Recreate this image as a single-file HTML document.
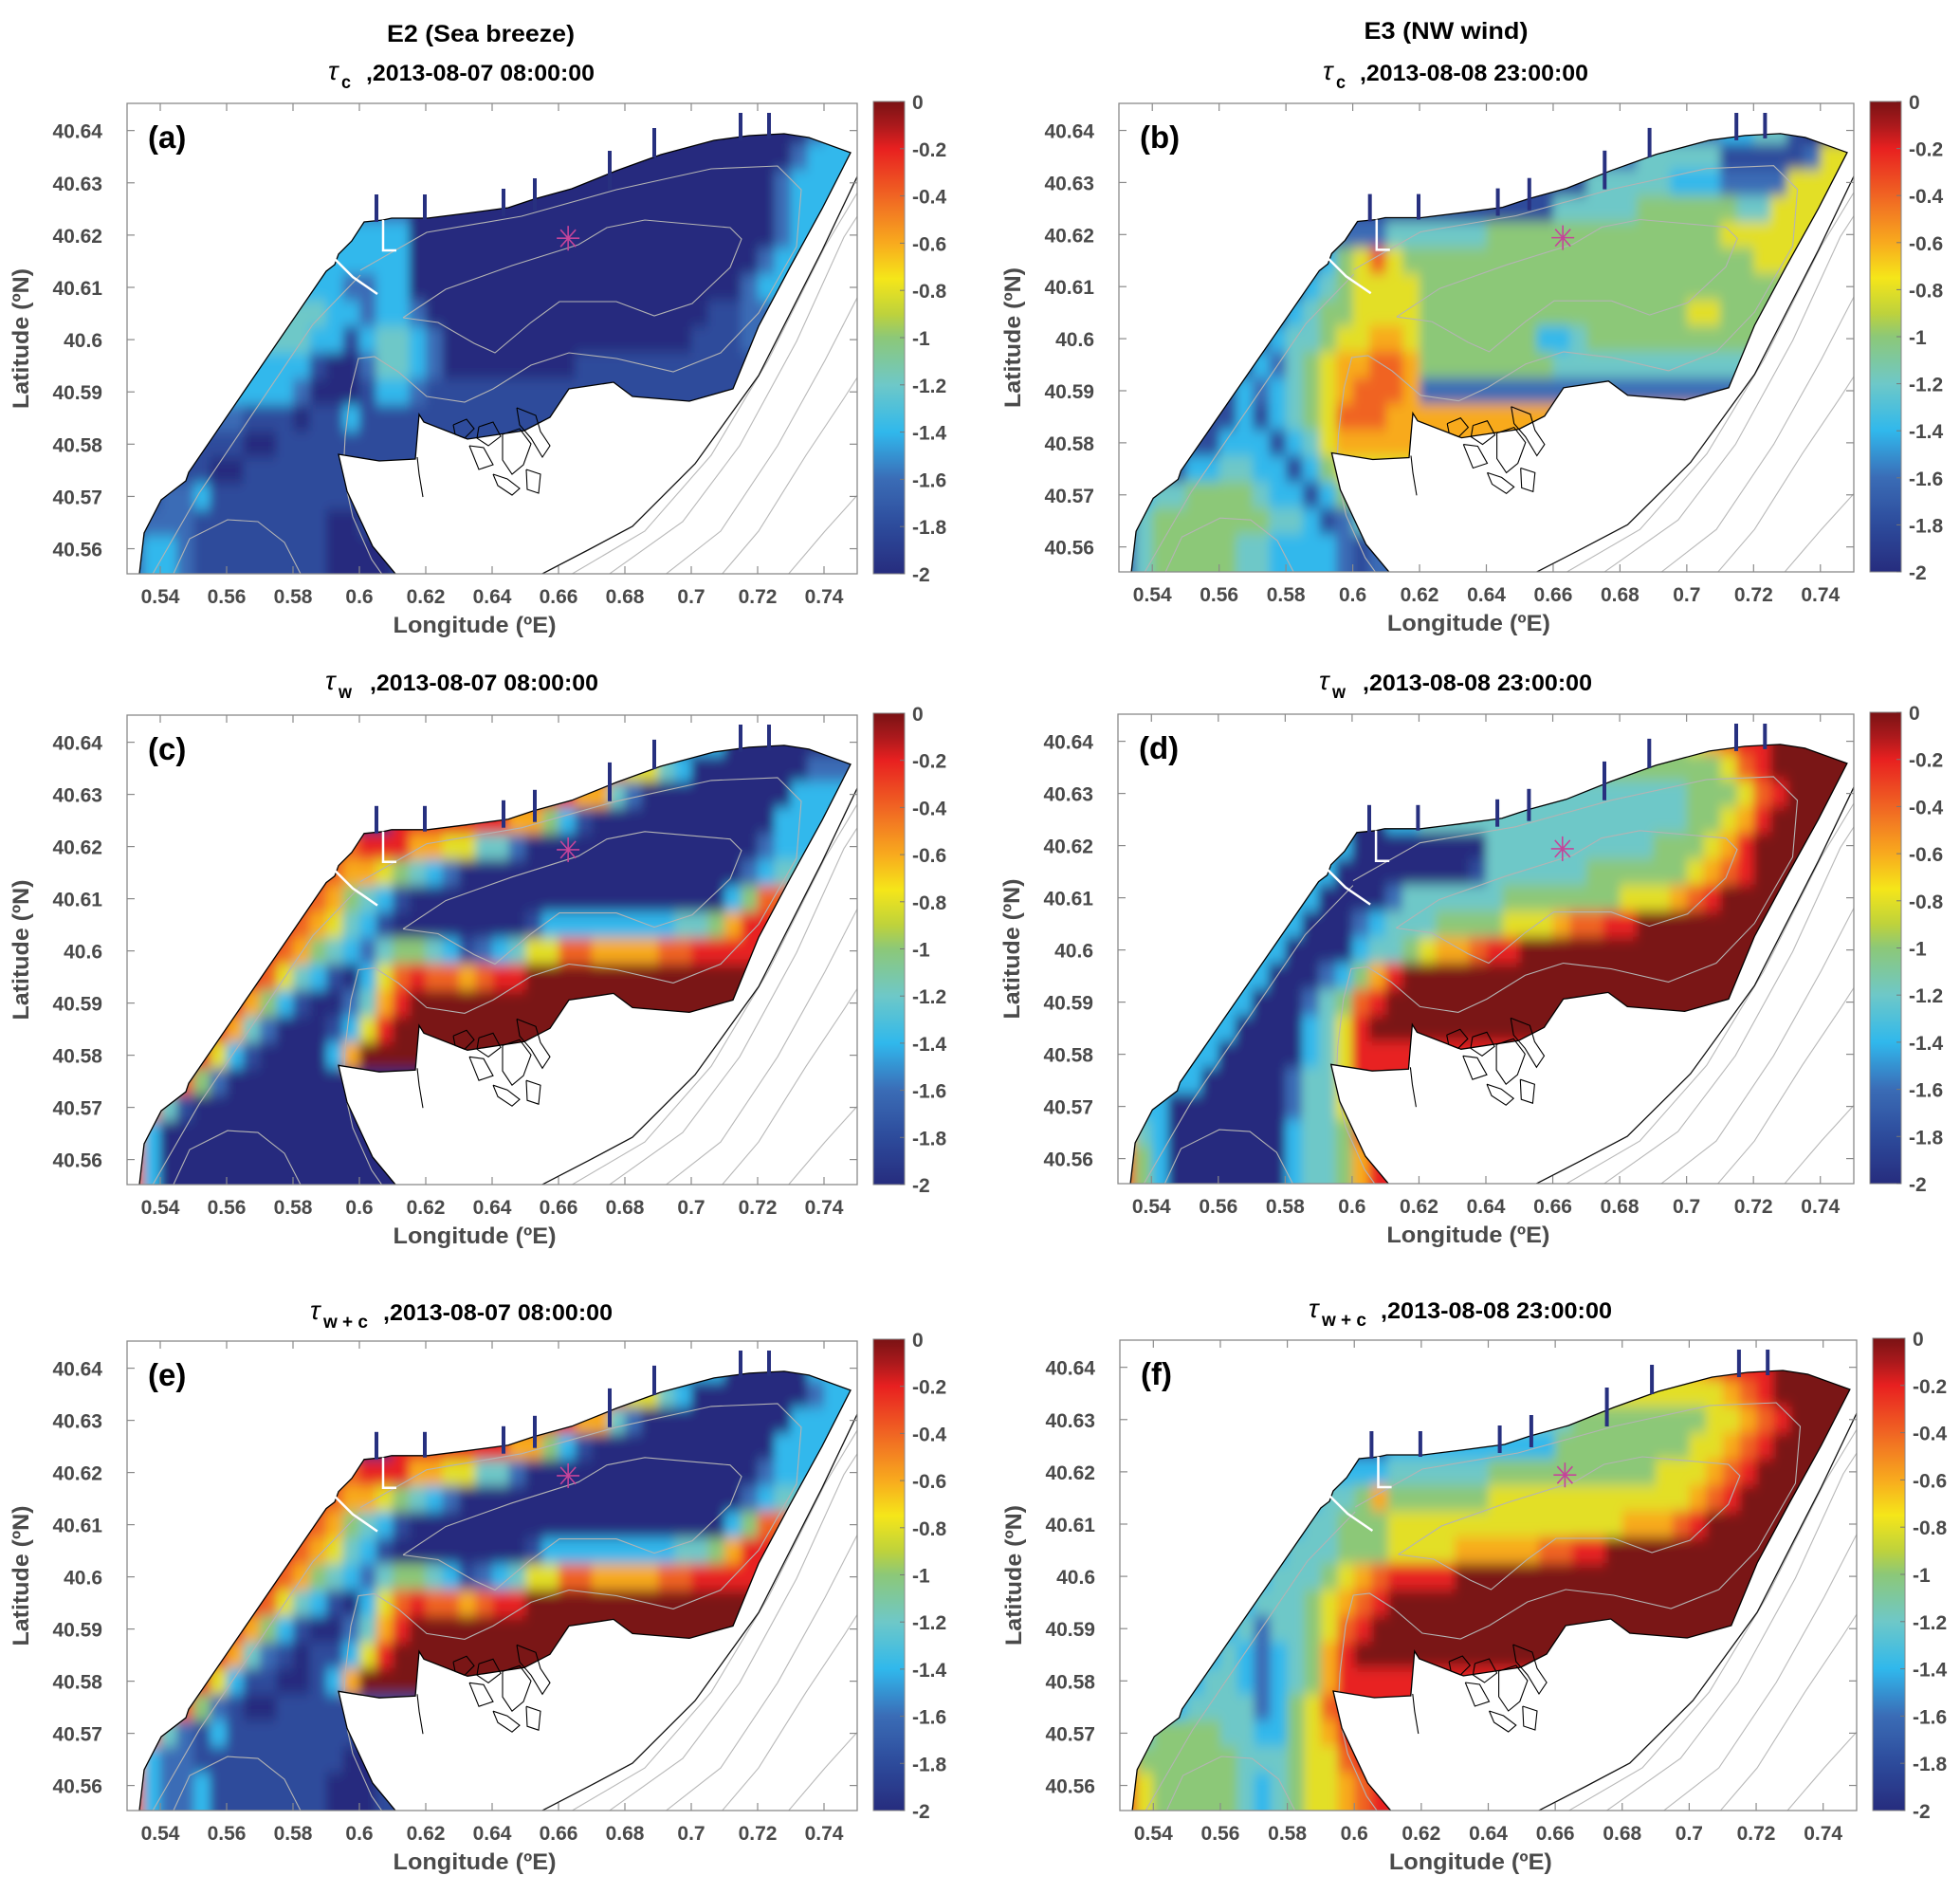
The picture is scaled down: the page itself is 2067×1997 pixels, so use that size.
<!DOCTYPE html>
<html><head><meta charset="utf-8"><title>Bottom stress maps</title>
<style>
html,body{margin:0;padding:0;background:#fff;}
svg{display:block;}
text{font-family:"Liberation Sans",Arial,sans-serif;}
</style></head>
<body>
<svg id="fig" xmlns="http://www.w3.org/2000/svg" width="2067" height="1997" viewBox="0 0 2067 1997">
<rect x="0" y="0" width="2067" height="1997" fill="#fff"/>
<defs>
<linearGradient id="cbGrad" x1="0" y1="0" x2="0" y2="1"></linearGradient>
</defs>
<text x="507" y="44" font-size="25" font-weight="bold" text-anchor="middle" textLength="198" lengthAdjust="spacingAndGlyphs" fill="#000">E2 (Sea breeze)</text>
<text x="1525" y="41" font-size="25" font-weight="bold" text-anchor="middle" textLength="173" lengthAdjust="spacingAndGlyphs" fill="#000">E3 (NW wind)</text>
<g id="panels"></g>
</svg>
<script>
// ---- axis ticks ----
const lonTicks=[0.54,0.56,0.58,0.6,0.62,0.64,0.66,0.68,0.7,0.72,0.74];
const lonTickLabels=["0.54","0.56","0.58","0.6","0.62","0.64","0.66","0.68","0.7","0.72","0.74"];
const latTicks=[40.56,40.57,40.58,40.59,40.6,40.61,40.62,40.63,40.64];
const latTickLabels=["40.56","40.57","40.58","40.59","40.6","40.61","40.62","40.63","40.64"];
const cbTicks=[0,-0.2,-0.4,-0.6,-0.8,-1,-1.2,-1.4,-1.6,-1.8,-2];
const cbTickLabels=["0","-0.2","-0.4","-0.6","-0.8","-1","-1.2","-1.4","-1.6","-1.8","-2"];
// ---- field grids (rows N->S, 44 cols W->E; code d => -2+0.2d, X => 0), run-length "v*n" ----
const gridA=["0*41 2*1 3*2","0*41 2*1 3*2","0*40 2*1 3*3","0*39 2*1 3*4","2*17 0*22 2*1 3*4","2*12 3*5 0*22 2*1 3*4","3*17 0*21 2*1 3*5","3*13 2*2 3*2 0*20 2*1 3*6","4*12 3*2 2*1 3*2 2*1 0*17 1*2 2*7","4*11 3*2 1*1 3*1 4*2 3*1 2*1 0*15 1*3 2*7","3*11 1*1 0*2 2*1 4*2 3*1 2*1 0*8 1*11 2*6","3*10 2*1 0*3 1*1 3*2 2*1 1*26","2*7 1*3 0*1 1*2 3*1 1*30","1*7 0*2 1*35","1*5 0*2 1*37","1*2 2*2 3*1 1*39","1*1 2*3 1*8 0*2 1*30","2*1 3*2 2*1 1*8 0*4 1*28"];
const gridB=["5*39 1*1 0*4","2*36 3*2 4*2 1*1 0*3","2*31 4*5 1*5 2*1 6*2","1*28 4*5 3*3 2*4 6*4","1*26 4*5 5*6 4*2 6*5","2*16 4*6 5*14 6*8","1*12 3*1 5*1 6*1 8*1 6*1 5*21 6*6","1*11 3*1 4*1 5*1 6*4 5*26","1*10 3*1 4*1 5*2 6*4 5*16 6*2 5*8","1*9 3*1 4*2 5*1 6*2 7*2 6*1 5*7 3*2 4*1 5*16","1*8 3*1 2*1 4*1 5*1 6*1 7*2 8*2 7*1 5*8 4*20","1*7 3*1 2*1 3*1 4*1 5*1 6*1 7*1 8*3 7*1 2*26","1*7 3*1 1*1 3*1 4*1 5*1 6*1 8*3 7*28","1*6 3*3 1*1 3*1 4*1 6*1 7*31","1*4 3*2 4*2 3*2 1*1 3*1 5*1 6*31","1*1 3*1 4*2 5*4 4*1 3*2 1*1 3*1 5*31","1*1 4*1 5*7 4*2 3*1 1*1 2*1 4*30","2*1 4*1 5*5 4*2 3*4 2*1 1*1 2*29"];
const gridC=["0*44","0*34 3*2 0*8","9*30 6*2 4*1 3*1 0*7 2*3","9*27 7*2 4*1 2*1 0*9 3*4","0*16 9*7 7*2 5*1 3*1 1*1 0*11 3*5","9*13 8*1 9*3 7*2 6*2 4*2 2*1 0*14 2*1 3*5","9*12 8*1 7*2 6*1 5*1 4*1 3*1 2*1 0*17 2*1 3*1 4*5","9*11 8*1 7*1 5*1 4*1 3*1 1*1 0*19 3*1 5*1 8*6","9*10 8*1 7*1 6*1 4*1 3*1 1*1 0*8 1*1 3*8 4*2 5*1 7*1 9*6","9*9 8*1 7*1 5*1 4*1 3*1 2*1 4*1 5*2 4*1 3*1 1*1 2*1 3*1 4*1 6*2 8*2 7*4 8*2 9*10","9*8 8*1 6*1 4*1 3*1 1*1 0*1 3*1 6*1 8*1 9*1 8*2 7*1 8*1 9*2 X*20","9*7 7*1 5*1 3*1 1*1 0*2 2*1 4*1 7*1 9*1 X*27","9*6 7*1 4*1 2*1 0*3 1*1 3*1 6*1 9*1 X*28","9*5 6*1 3*1 1*1 0*4 3*1 7*1 X*30","8*4 5*1 2*1 0*38","8*2 4*1 1*1 0*40","7*1 3*1 0*42","8*1 3*1 0*42"];
const gridD=["5*38 9*1 X*5","5*34 6*1 7*1 8*1 9*2 X*5","5*36 6*1 8*1 9*1 X*5","4*34 5*3 6*1 8*1 9*1 X*4","0*16 3*2 4*16 5*2 6*1 7*1 9*1 X*5","3*14 0*8 4*10 5*3 6*1 7*1 9*1 X*6","3*13 0*8 1*1 4*6 5*6 6*1 7*1 8*1 9*1 X*6","3*12 0*4 2*1 4*6 5*7 6*3 7*1 8*1 9*1 X*8","3*11 0*3 2*1 3*1 4*3 5*4 6*3 7*1 8*2 9*2 X*13","3*10 0*4 3*1 4*2 5*1 6*1 7*2 8*1 9*2 X*20","3*9 0*3 2*1 3*1 5*1 7*1 9*1 X*27","3*8 0*3 2*1 4*1 5*1 8*1 9*1 X*28","3*7 0*4 3*1 4*1 6*1 9*1 X*29","3*6 0*5 3*1 4*1 6*1 9*30","3*5 0*5 2*1 4*2 6*1 9*30","4*1 3*2 0*7 2*1 4*2 6*1 9*30","7*1 4*1 3*1 0*7 3*1 4*2 5*1 8*1 9*29","8*1 5*1 3*1 0*7 3*1 4*2 5*1 7*1 9*29"];
const gridE=["0*41 2*1 3*2","0*34 3*2 0*5 3*3","9*30 6*2 4*1 3*1 0*7 2*1 3*2","9*27 7*2 4*1 2*1 0*9 3*4","0*16 9*7 7*2 5*1 3*1 1*1 0*11 3*5","9*13 8*1 9*3 7*2 6*2 4*2 2*1 0*14 2*1 3*5","9*12 8*1 7*2 6*1 5*1 4*1 3*1 2*1 0*17 2*1 3*1 4*5","9*11 8*1 7*1 5*1 4*1 3*1 1*1 0*19 3*1 5*1 8*6","9*10 8*1 7*1 6*1 4*1 3*1 1*1 0*8 1*1 3*8 4*2 5*1 7*1 9*6","9*9 8*1 7*1 5*1 4*1 3*1 2*1 4*1 5*2 4*1 3*1 1*1 2*1 3*1 4*1 6*2 8*2 7*4 8*2 9*10","9*8 8*1 6*1 4*1 3*1 1*1 0*1 3*1 6*1 8*1 9*1 8*2 7*1 8*1 9*2 X*20","9*7 7*1 5*1 3*1 1*1 0*2 2*1 4*1 7*1 9*1 X*27","9*6 7*1 4*1 2*1 1*1 0*1 1*2 3*1 6*1 9*1 X*28","9*5 6*1 3*1 1*2 0*2 1*1 3*1 7*1 X*30","8*4 5*1 2*1 1*1 0*2 1*35","8*2 4*1 2*1 1*1 3*1 1*38","7*1 3*1 2*2 1*9 0*2 1*29","8*1 3*1 2*2 3*1 1*7 0*3 1*29"];
const gridF=["6*38 9*1 X*5","6*34 7*1 8*1 9*3 X*5","6*36 7*1 8*1 9*1 X*5","4*27 5*8 6*2 7*1 8*1 9*1 X*4","1*16 3*10 5*8 6*2 7*1 8*1 9*1 X*5","3*16 4*6 5*10 6*3 7*1 8*1 9*1 X*6","3*12 4*2 5*1 7*1 5*6 6*12 7*1 8*1 9*1 X*7","3*11 4*2 5*3 6*14 7*3 8*1 9*1 X*9","3*10 4*3 5*3 6*4 7*5 8*2 9*2 X*15","3*9 4*3 5*1 6*1 7*1 8*1 9*4 X*24","3*8 4*3 5*1 6*1 7*1 8*1 9*1 X*28","3*7 4*1 2*1 4*2 5*1 6*1 8*1 9*1 X*29","3*6 4*1 3*1 2*1 3*1 4*1 5*1 7*1 9*1 X*30","3*5 4*2 3*1 2*1 3*1 4*1 5*1 7*1 9*31","3*4 4*4 2*1 3*1 5*1 6*1 8*1 9*31","4*2 5*4 4*2 3*2 5*1 6*1 7*1 9*31","7*1 5*6 4*3 5*1 6*2 8*1 9*30","8*1 6*1 5*5 4*1 3*1 4*1 5*1 6*2 7*1 8*1 9*29"];
// ---- colormap stops ----
const cmapV=[-2,-1.8,-1.6,-1.4,-1.2,-1.0,-0.9,-0.75,-0.6,-0.4,-0.2,-0.1,0];
const cmapC=[[38,44,126],[45,75,155],[58,108,182],[48,184,236],[110,200,200],[140,200,120],[190,210,60],[245,230,25],[248,170,30],[240,100,35],[232,32,32],[170,25,28],[122,18,20]];

const NS="http://www.w3.org/2000/svg";
function mk(tag,parent){const e=document.createElementNS(NS,tag);parent.appendChild(e);return e;}
function setA(e,o){for(const k in o)e.setAttribute(k,o[k]);}
function color(v){
  v=Math.max(-2,Math.min(0,v));
  for(let i=0;i<cmapV.length-1;i++){
    if(v<=cmapV[i+1]){const t=(v-cmapV[i])/(cmapV[i+1]-cmapV[i]);const a=cmapC[i],b=cmapC[i+1];
      return "rgb("+Math.round(a[0]+(b[0]-a[0])*t)+","+Math.round(a[1]+(b[1]-a[1])*t)+","+Math.round(a[2]+(b[2]-a[2])*t)+")";}
  }
  return "rgb(122,18,20)";
}
function codeVal(ch){return ch==="X"?0:-2+0.2*parseInt(ch,10);}
function expand(rle){
  const out=[];rle.trim().split(/\s+/).forEach(tok=>{const p=tok.split("*");const n=parseInt(p[1],10);for(let k=0;k<n;k++)out.push(codeVal(p[0]));});
  while(out.length<44)out.push(out[out.length-1]);
  return out.slice(0,44);
}
// geometry (coastline etc.) given in reference-frame pixels of panel (a); converted to lon/lat
function refLon(X){return 0.53+(X-134)/3500;}
function refLat(Y){return 40.6452-(Y-109)/5511;}
const coastRef=[[140,625],[147,605],[152,562],[170,527],[196,507],[199,498],[344,286],[353,279],[357,268],[371,254],[384,234],[404,232],[413,230],[451,230],[491,225],[536,219],[563,210],[603,199],[650,180],[697,163],[753,148],[790,143],[827,141],[853,145],[897,161],[867,220],[833,282],[800,344],[773,410],[727,423],[667,418],[647,403],[600,410],[580,440],[553,454],[493,463],[447,445],[442,437],[440,460],[438,484],[400,486],[357,479],[366,518],[393,576],[417,605],[424,625]];
const jettyRef=[[397,205,234],[448,205,232],[531,199,228],[564,188,222],[643,159,200],[690,135,166],[781,119,148],[811,119,146]];
const offshoreBlack=[[568,607],[620,580],[667,555],[733,489],[800,396],[867,264],[906,182]];
const offshoreGray=[[[600,607],[680,560],[750,480],[810,380],[870,260],[906,200]],[[640,607],[720,550],[780,470],[840,360],[890,250],[906,225]],[[700,607],[760,560],[820,470],[870,380],[906,310]],[[760,607],[800,560],[850,480],[890,420],[906,395]],[[830,607],[870,560],[906,520]]];
const contourRef=[[[380,285],[450,245],[550,228],[650,200],[750,178],[820,175],[845,200],[840,260],[800,330],[760,372],[710,392],[650,378],[600,372],[560,385],[520,410],[490,424],[450,418],[420,392],[395,376],[378,378],[370,410],[364,460],[362,500],[372,545],[392,590],[404,607]],[[425,335],[470,305],[540,280],[610,258],[640,240],[680,232],[770,240],[782,252],[770,282],[730,320],[690,333],[650,318],[590,318],[560,340],[522,372],[500,362],[462,340],[425,335]],[[182,607],[200,568],[240,548],[272,550],[300,572],[318,607]],[[160,607],[210,520],[330,342],[380,290]]];
const islandsRef=[[[478,448],[492,442],[500,452],[490,462],[480,458],[478,448]],[[505,450],[520,445],[528,460],[515,470],[503,462],[505,450]],[[530,458],[548,452],[560,468],[552,490],[540,500],[530,485],[530,458]],[[545,430],[565,438],[570,455],[580,470],[572,482],[560,462],[548,448],[545,430]],[[495,470],[510,472],[520,490],[505,495],[495,470]],[[520,500],[535,505],[548,515],[540,522],[525,512],[520,500]],[[555,495],[570,500],[568,520],[556,516],[555,495]],[[440,482],[442,500],[446,524]]];
const starLon=0.6629, starLat=40.6194;

const panels=[
 {id:"a",x0:134,y0:109,w:770,h:496,cb0:921,cb1:954,grid:gridA,label:"(a)",sub:"c",tauX:346,t0:386,t1:627,ty:76,subW:10},
 {id:"b",x0:1180,y0:109,w:775,h:494,cb0:1972,cb1:2005,grid:gridB,label:"(b)",sub:"c",tauX:1395,t0:1434,t1:1675,ty:76,subW:10},
 {id:"c",x0:134,y0:754,w:770,h:495,cb0:921,cb1:954,grid:gridC,label:"(c)",sub:"w",tauX:343,t0:390,t1:631,ty:719,subW:14},
 {id:"d",x0:1179,y0:753,w:776,h:495,cb0:1972,cb1:2005,grid:gridD,label:"(d)",sub:"w",tauX:1391,t0:1437,t1:1679,ty:719,subW:14},
 {id:"e",x0:134,y0:1414,w:770,h:495,cb0:921,cb1:954,grid:gridE,label:"(e)",sub:"w + c",tauX:327,t0:404,t1:646,ty:1383,subW:47},
 {id:"f",x0:1181,y0:1413,w:777,h:496,cb0:1975,cb1:2009,grid:gridF,label:"(f)",sub:"w + c",tauX:1380,t0:1456,t1:1700,ty:1381,subW:47}
];
const svg=document.getElementById("fig");
const defs=svg.querySelector("defs");
const root=document.getElementById("panels");
const grad=document.getElementById("cbGrad");
for(let k=0;k<=40;k++){const v=-2*k/40;const s=mk("stop",grad);setA(s,{offset:(k/40).toFixed(3),"stop-color":color(v)});}

panels.forEach(p=>{
  const xS=lon=>p.x0+(lon-0.53)/0.22*p.w;
  const yS=lat=>p.y0+(40.6452-lat)/0.09*p.h;
  const rx=X=>xS(refLon(X)), ry=Y=>yS(refLat(Y));
  const pts=arr=>arr.map(q=>rx(q[0]).toFixed(1)+","+ry(q[1]).toFixed(1)).join(" ");
  const g=mk("g",root);
  
  
  const cpA=mk("clipPath",defs);cpA.setAttribute("id","axclip-"+p.id);
  const cr=mk("rect",cpA);setA(cr,{x:p.x0,y:p.y0,width:p.w,height:p.h});
  const cpW=mk("clipPath",defs);cpW.setAttribute("id","water-"+p.id);
  const cw=mk("polygon",cpW);cw.setAttribute("points",pts(coastRef));
  const flt=mk("filter",defs);setA(flt,{id:"blur-"+p.id,filterUnits:"userSpaceOnUse",x:p.x0-40,y:p.y0-40,width:p.w+80,height:p.h+80});
  const fb=mk("feGaussianBlur",flt);fb.setAttribute("stdDeviation","5 7");
  const axG=mk("g",g);axG.setAttribute("clip-path","url(#axclip-"+p.id+")");
  
  
  const wG=mk("g",axG);wG.setAttribute("clip-path","url(#water-"+p.id+")");
  const hm=mk("g",wG);hm.setAttribute("filter","url(#blur-"+p.id+")");
  
  
  p.grid.forEach((row,j)=>{
    const vals=expand(row);
    vals.forEach((v,i)=>{
      let lonA=0.53+0.005*i, lonB=lonA+0.005, latT=40.6475-0.005*j, latB=latT-0.005;
      if(i===0)lonA-=0.02; if(i===43)lonB+=0.02; if(j===0)latT+=0.02; if(j===17)latB-=0.02;
      const r=mk("rect",hm);
      
      
      setA(r,{x:xS(lonA).toFixed(1),y:yS(latT).toFixed(1),width:(xS(lonB)-xS(lonA)+0.6).toFixed(1),height:(yS(latB)-yS(latT)+0.6).toFixed(1),fill:color(v)});
    });
  });
  contourRef.forEach(c=>{const l=mk("polyline",wG);
    
    
    setA(l,{points:pts(c),fill:"none",stroke:"#b4b4b4","stroke-width":1.1});});
  offshoreGray.forEach(c=>{const l=mk("polyline",axG);
    
    
    setA(l,{points:pts(c),fill:"none",stroke:"#b8b8b8","stroke-width":1.1});});
  const ob=mk("polyline",axG);
  
  
  setA(ob,{points:pts(offshoreBlack),fill:"none",stroke:"#111","stroke-width":1.3});
  const cl=mk("polygon",axG);
  
  
  setA(cl,{points:pts(coastRef),fill:"none",stroke:"#000","stroke-width":1.3});
  islandsRef.forEach(c=>{const l=mk("polyline",axG);
    
    
    setA(l,{points:pts(c),fill:"none",stroke:"#000","stroke-width":1.1});});
  const bw=mk("polyline",axG);
  
  
  setA(bw,{points:pts([[352,272],[372,292],[398,310]]),fill:"none",stroke:"#fff","stroke-width":2.5});
  const jt=mk("polyline",axG);
  
  
  setA(jt,{points:pts([[404,232],[404,264],[418,264]]),fill:"none",stroke:"#fff","stroke-width":2.5});
  jettyRef.forEach(q=>{const r=mk("rect",axG);
    
    
    setA(r,{x:(rx(q[0])-2).toFixed(1),y:ry(q[1]).toFixed(1),width:4,height:(ry(q[2])-ry(q[1])).toFixed(1),fill:"#27307f"});});
  const sx=xS(starLon), sy=yS(starLat);
  const st=mk("g",axG);
  
  
  [[0,-13,0,13],[-12,0,12,0],[-8,-9,8,9],[-8,9,8,-9]].forEach(s=>{const l=mk("line",st);setA(l,{x1:sx+s[0],y1:sy+s[1],x2:sx+s[2],y2:sy+s[3],stroke:"#c5449a","stroke-width":1.6});});
  const box=mk("rect",g);
  
  
  setA(box,{x:p.x0,y:p.y0,width:p.w,height:p.h,fill:"none",stroke:"#8a8a8a","stroke-width":1.3});
  lonTicks.forEach((t,k)=>{const x=xS(t);
    const t1=mk("line",g);setA(t1,{x1:x,y1:p.y0+p.h,x2:x,y2:p.y0+p.h-8,stroke:"#8a8a8a","stroke-width":1.2});
    
    const t2=mk("line",g);setA(t2,{x1:x,y1:p.y0,x2:x,y2:p.y0+8,stroke:"#8a8a8a","stroke-width":1.2});
    
    const tl=mk("text",g);
    
    
    setA(tl,{x:x,y:p.y0+p.h+31,"font-size":21,"font-weight":"bold","text-anchor":"middle",fill:"#4a4a4a"});
    tl.textContent=lonTickLabels[k];});
  latTicks.forEach((t,k)=>{const y=yS(t);
    const t1=mk("line",g);setA(t1,{x1:p.x0,y1:y,x2:p.x0+8,y2:y,stroke:"#8a8a8a","stroke-width":1.2});
    
    const t2=mk("line",g);setA(t2,{x1:p.x0+p.w,y1:y,x2:p.x0+p.w-8,y2:y,stroke:"#8a8a8a","stroke-width":1.2});
    
    const tl=mk("text",g);
    
    
    setA(tl,{x:p.x0-26,y:y+8,"font-size":21,"font-weight":"bold","text-anchor":"end",fill:"#4a4a4a"});
    tl.textContent=latTickLabels[k];});
  const xl=mk("text",g);
  
  
  setA(xl,{x:p.x0+p.w*0.476,y:p.y0+p.h+62,"font-size":24,"font-weight":"bold","text-anchor":"middle",fill:"#4a4a4a",textLength:172,lengthAdjust:"spacingAndGlyphs"});
  xl.textContent="Longitude (ºE)";
  const yl=mk("text",g);
  
  
  const ycx=p.x0-104, ycy=p.y0+p.h*0.5;
  setA(yl,{x:ycx,y:ycy,"font-size":24,"font-weight":"bold","text-anchor":"middle",fill:"#4a4a4a",transform:"rotate(-90 "+ycx+" "+ycy+")",textLength:148,lengthAdjust:"spacingAndGlyphs"});
  yl.textContent="Latitude (ºN)";
  const pl=mk("text",g);
  
  
  setA(pl,{x:p.x0+22,y:p.y0+47,"font-size":33,"font-weight":"bold",fill:"#000"});
  pl.textContent=p.label;
  const tau=mk("text",g);
  
  
  setA(tau,{x:p.tauX,y:p.ty+8,"font-size":28,"font-style":"italic","font-family":"Liberation Serif, serif",fill:"#000"});
  tau.textContent="τ";
  const sb=mk("text",g);
  
  
  setA(sb,{x:p.tauX+14,y:p.ty+17,"font-size":19,"font-weight":"bold",fill:"#000",textLength:p.subW,lengthAdjust:"spacingAndGlyphs"});
  sb.textContent=p.sub;
  const tt=mk("text",g);
  
  
  setA(tt,{x:p.t0,y:p.ty+9,"font-size":24,"font-weight":"bold",fill:"#000",textLength:p.t1-p.t0,lengthAdjust:"spacingAndGlyphs"});
  tt.textContent=",2013-08-0"+(p.id==="a"||p.id==="c"||p.id==="e"?"7 08:00:00":"8 23:00:00");
  const cb=mk("rect",g);
  
  
  setA(cb,{x:p.cb0,y:p.y0-2,width:p.cb1-p.cb0,height:p.h+2,fill:"url(#cbGrad)",stroke:"#8a8a8a","stroke-width":1});
  cbTicks.forEach((t,k)=>{const y=(p.y0-2)+(-t/2)*(p.h+2);
    const tk=mk("line",g);setA(tk,{x1:p.cb1,y1:y,x2:p.cb1-5,y2:y,stroke:"#777","stroke-width":1});
    
    const tl=mk("text",g);
    
    
    setA(tl,{x:p.cb1+8,y:y+8,"font-size":21,"font-weight":"bold",fill:"#4a4a4a"});
    tl.textContent=cbTickLabels[k];});
});
</script>
</body></html>
